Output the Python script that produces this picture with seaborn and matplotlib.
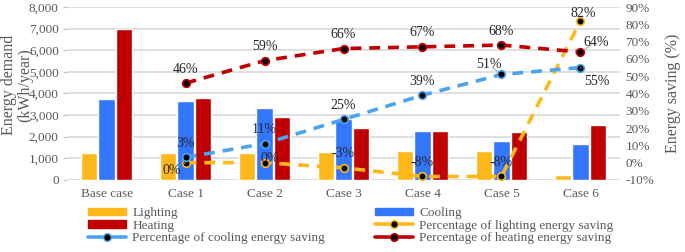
import numpy as np
import pandas as pd
import seaborn as sns
import matplotlib.pyplot as plt
from matplotlib.ticker import FuncFormatter
from matplotlib.lines import Line2D
from matplotlib.patches import Patch

# Data
cases = ['Base case', 'Case 1', 'Case 2', 'Case 3', 'Case 4', 'Case 5', 'Case 6']
lighting = [1250, 1250, 1250, 1280, 1320, 1320, 220]
cooling = [3750, 3650, 3320, 2800, 2280, 1820, 1680]
heating = [7000, 3780, 2900, 2380, 2280, 2230, 2530]

saving_cases = ['Case 1', 'Case 2', 'Case 3', 'Case 4', 'Case 5', 'Case 6']
light_saving = [0, 0, -3, -8, -8, 82]
cool_saving = [3, 11, 25, 39, 51, 55]
heat_saving = [46, 59, 66, 67, 68, 64]

c_light = '#FFB819'
c_cool = '#3377FF'
c_heat = '#C00000'
c_cool_line = '#4BA3F0'
grey = '#595959'

df = pd.DataFrame({
    'case': cases * 3,
    'kind': ['Lighting'] * 7 + ['Cooling'] * 7 + ['Heating'] * 7,
    'value': lighting + cooling + heating,
})

sns.set_style('white')
plt.rcParams['font.family'] = ['Liberation Serif', 'DejaVu Serif']

fig, ax = plt.subplots(figsize=(6.85, 2.52), dpi=100)
fig.subplots_adjust(left=0.098, right=0.905, top=0.972, bottom=0.286)

sns.barplot(data=df, x='case', y='value', hue='kind', ax=ax,
            palette=[c_light, c_cool, c_heat], width=0.66, gap=0.06,
            saturation=1, legend=False, zorder=2)

ax.set_ylim(0, 8000)
ax.set_yticks(range(0, 8001, 1000))
ax.yaxis.set_major_formatter(FuncFormatter(lambda v, p: f'{int(v):,}'))
ax.grid(axis='y', color='#D9D9D9', lw=1.2, zorder=0)
ax.set_axisbelow(True)
ax.set_xlabel('')
ax.set_ylabel('Energy demand\n(kWh/year)', color=grey, fontsize=11.5,
              linespacing=0.95)
ax.yaxis.set_label_coords(-0.062, 0.55)
for s in ax.spines.values():
    s.set_visible(False)
ax.tick_params(axis='y', colors=grey, labelsize=9.5, length=3, width=0.8,
               color='#BFBFBF', pad=3)
ax.tick_params(axis='x', colors=grey, labelsize=9.5, length=0, pad=6)
ax.set_xlim(-0.5, 6.5)

ax2 = ax.twinx()
xpos = [cases.index(c) for c in saving_cases]
dash = (0, (3, 2.2))
ax2.plot(xpos, light_saving, ls=dash, lw=2.6, color=c_light,
         marker='o', ms=5.5, mfc='black', mec=c_light, mew=1.2, zorder=3)
ax2.plot(xpos, cool_saving, ls=dash, lw=2.6, color=c_cool_line,
         marker='o', ms=5.5, mfc='black', mec=c_cool_line, mew=1.2, zorder=3)
ax2.plot(xpos, heat_saving, ls=dash, lw=2.6, color=c_heat,
         marker='o', ms=5.5, mfc='black', mec=c_heat, mew=1.2, zorder=3)
ax2.set_ylim(-10, 90)
ax2.set_yticks(range(-10, 91, 10))
ax2.yaxis.set_major_formatter(FuncFormatter(lambda v, p: f'{int(v)}%'))
ax2.tick_params(axis='y', colors=grey, labelsize=9.5, length=0, pad=4)
ax2.set_ylabel('Energy saving (%)', color=grey, fontsize=11.5, labelpad=8)
for s in ax2.spines.values():
    s.set_visible(False)

# data labels: (dx, dy) offsets in points
light_off = [(-10, -6), (4, 3), (0, 10), (0, 10), (0, 10), (2, 5)]
cool_off = [(0, 10), (0, 10), (0, 10), (0, 10), (-9, 7), (12, -10)]
heat_off = [(0, 10), (0, 10), (0, 10), (0, 10), (0, 10), (11, 7)]
leader = {('l', 0), ('c', 4), ('c', 5), ('h', 5)}
for key, vals, offs in [('l', light_saving, light_off),
                        ('c', cool_saving, cool_off),
                        ('h', heat_saving, heat_off)]:
    for i, (x, v) in enumerate(zip(xpos, vals)):
        arrow = None
        if (key, i) in leader:
            arrow = dict(arrowstyle='-', color='#A6A6A6', lw=0.7,
                         shrinkA=4, shrinkB=3)
        ax2.annotate(f'{v}%', (x, v), xytext=offs[i], textcoords='offset points',
                     ha='center', va='center', fontsize=10, color='#262626',
                     arrowprops=arrow, zorder=4)


def line_handle(color, label):
    return Line2D([], [], lw=2.6, color=color, marker='o', ms=5.5,
                  mfc='black', mec=color, label=label)


col1 = [Patch(color=c_light, label='Lighting'),
        Patch(color=c_heat, label='Heating'),
        line_handle(c_cool_line, 'Percentage of cooling energy saving')]
col2 = [Patch(color=c_cool, label='Cooling'),
        line_handle(c_light, 'Percentage of lighting energy saving'),
        line_handle(c_heat, 'Percentage of heating energy saving')]

for handles, x0 in [(col1, 88 / 685), (col2, 375 / 685)]:
    leg = fig.legend(handles=handles, loc='upper left',
                     bbox_to_anchor=(x0, 0.178), frameon=False, fontsize=9.5,
                     handlelength=2.9, handleheight=0.55, labelspacing=0.05,
                     handletextpad=0.45, borderpad=0, borderaxespad=0)
    for t in leg.get_texts():
        t.set_color(grey)

fig.savefig('out.png', dpi=100)
